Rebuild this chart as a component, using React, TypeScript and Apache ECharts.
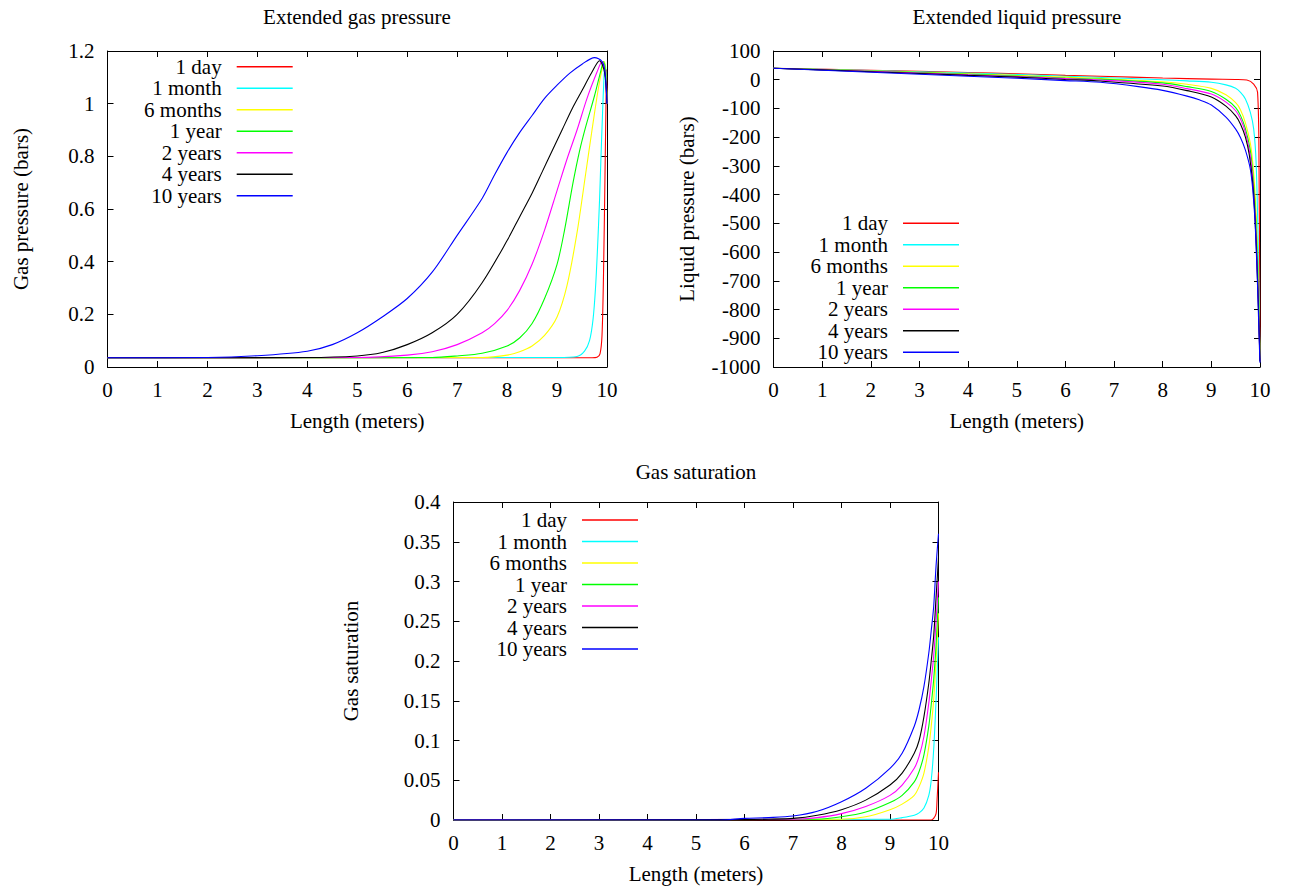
import React, { useEffect, useRef } from "react";
import * as echarts from "echarts";

const FONT = "Liberation Serif";

const SERIES_NAMES = ["1 day", "1 month", "6 months", "1 year", "2 years", "4 years", "10 years"];
const SERIES_COLORS = ["#ff0000", "#00ffff", "#ffff00", "#00ff00", "#ff00ff", "#000000", "#0000ff"];

const X_TICKS = { min: 0, max: 10, interval: 1 };
const GP_TICKS = { min: 0, max: 1.2, interval: 0.2 };
const LP_TICKS = { min: -1000, max: 100, interval: 100 };
const GS_TICKS = { min: 0, max: 0.4, interval: 0.05 };

// Extended gas pressure (bars)
const GP_1DAY = [[0, 0.035], [9.7, 0.035], [9.8, 0.037], [9.86, 0.05], [9.9, 0.12], [9.93, 0.35], [9.96, 0.73], [9.98, 1.0], [9.99, 1.13], [10, 1.0]];
const GP_1MONTH = [[0, 0.035], [9, 0.036], [9.4, 0.04], [9.55, 0.06], [9.65, 0.1], [9.72, 0.18], [9.77, 0.3], [9.81, 0.45], [9.85, 0.63], [9.88, 0.8], [9.91, 0.96], [9.94, 1.1], [9.96, 1.15], [9.98, 1.12], [10, 1.0]];
const GP_6MONTHS = [[0, 0.035], [7.5, 0.036], [8, 0.045], [8.25, 0.058], [8.5, 0.08], [8.75, 0.12], [9, 0.19], [9.2, 0.31], [9.4, 0.51], [9.57, 0.73], [9.7, 0.9], [9.82, 1.05], [9.9, 1.13], [9.95, 1.16], [9.98, 1.1], [10, 1.0]];
const GP_1YEAR = [[0, 0.035], [6.5, 0.036], [7, 0.042], [7.5, 0.052], [8, 0.08], [8.25, 0.11], [8.5, 0.165], [8.75, 0.26], [9, 0.39], [9.15, 0.52], [9.32, 0.7], [9.45, 0.82], [9.57, 0.91], [9.75, 1.03], [9.87, 1.12], [9.93, 1.16], [9.97, 1.12], [10, 1.0]];
const GP_2YEARS = [[0, 0.035], [5, 0.036], [6, 0.045], [6.5, 0.058], [7, 0.085], [7.5, 0.13], [7.75, 0.165], [8, 0.215], [8.25, 0.29], [8.5, 0.39], [8.75, 0.52], [9, 0.67], [9.2, 0.79], [9.4, 0.9], [9.6, 1.02], [9.8, 1.12], [9.9, 1.16], [9.96, 1.12], [10, 1.0]];
const GP_4YEARS = [[0, 0.035], [4, 0.036], [5, 0.042], [5.5, 0.055], [6, 0.085], [6.5, 0.13], [7, 0.2], [7.5, 0.32], [8, 0.48], [8.25, 0.57], [8.5, 0.66], [8.7, 0.74], [8.9, 0.82], [9.1, 0.9], [9.3, 0.98], [9.5, 1.05], [9.7, 1.12], [9.85, 1.163], [9.95, 1.12], [10, 1.0]];
const GP_10YEARS = [[0, 0.035], [2, 0.036], [3, 0.043], [4, 0.06], [4.5, 0.085], [5, 0.13], [5.5, 0.19], [6, 0.26], [6.5, 0.36], [7, 0.5], [7.5, 0.64], [7.75, 0.73], [8, 0.815], [8.25, 0.89], [8.5, 0.955], [8.75, 1.02], [9, 1.07], [9.25, 1.115], [9.5, 1.15], [9.75, 1.175], [9.9, 1.16], [9.96, 1.12], [10, 1.0]];

// Extended liquid pressure (bars)
const LP_1DAY = [[0, 40], [2, 33], [4, 25], [5, 21], [6, 15], [6.72, 12], [8, 6], [9, 2], [9.5, 1], [9.73, -1], [9.87, -15], [9.95, -44], [9.98, -300], [10, -980]];
const LP_1MONTH = [[0, 40], [2, 32], [4, 23], [5, 18], [6, 12], [6.72, 8], [8, 0], [8.5, -4], [9, -9], [9.3, -18], [9.5, -30], [9.6, -44], [9.7, -67], [9.8, -113], [9.87, -171], [9.92, -287], [9.96, -550], [10, -980]];
const LP_6MONTHS = [[0, 40], [2, 31], [4, 21], [5, 15], [6, 9], [6.72, 4.6], [8, -7], [8.5, -16], [9, -30], [9.3, -52], [9.5, -80], [9.6, -105], [9.7, -150], [9.8, -220], [9.85, -287], [9.9, -400], [9.95, -600], [10, -980]];
const LP_1YEAR = [[0, 40], [2, 30], [4, 19], [5, 13], [6, 6], [6.72, 2], [8, -11], [8.5, -24], [9, -41], [9.3, -68], [9.5, -97], [9.6, -125], [9.7, -170], [9.8, -245], [9.85, -322], [9.9, -440], [9.95, -640], [10, -980]];
const LP_2YEARS = [[0, 40], [2, 29], [4, 17], [5, 11], [6, 4], [6.72, -1], [8, -16], [8.5, -31], [9, -50], [9.3, -78], [9.5, -108], [9.6, -137], [9.7, -183], [9.8, -265], [9.85, -345], [9.9, -470], [9.95, -680], [10, -980]];
const LP_4YEARS = [[0, 40], [2, 28], [4, 15], [5, 9], [6, 1], [6.72, -4.6], [8, -22], [8.5, -38], [9, -60], [9.3, -92], [9.5, -126], [9.6, -155], [9.7, -200], [9.78, -262], [9.85, -360], [9.9, -490], [9.95, -700], [10, -980]];
const LP_10YEARS = [[0, 40], [2, 26], [4, 12], [5, 5], [6, -3], [6.72, -9], [7.5, -24], [8, -37], [8.5, -57], [8.75, -70], [9, -88], [9.3, -130], [9.5, -172], [9.6, -202], [9.7, -245], [9.8, -310], [9.85, -380], [9.9, -500], [9.95, -720], [9.99, -941], [10, -985]];

// Gas saturation
const GS_1DAY = [[0, 0], [9.85, 0], [9.9, 0.002], [9.95, 0.008], [9.97, 0.025], [10, 0.06]];
const GS_1MONTH = [[0, 0], [9, 0.001], [9.25, 0.003], [9.5, 0.006], [9.6, 0.009], [9.7, 0.015], [9.8, 0.031], [9.85, 0.05], [9.9, 0.088], [9.95, 0.151], [10, 0.23]];
const GS_6MONTHS = [[0, 0], [8, 0.001], [8.5, 0.004], [9, 0.013], [9.25, 0.02], [9.5, 0.031], [9.6, 0.042], [9.7, 0.059], [9.8, 0.092], [9.85, 0.118], [9.9, 0.151], [9.95, 0.2], [10, 0.26]];
const GS_1YEAR = [[0, 0], [7.5, 0.001], [8, 0.004], [8.5, 0.01], [9, 0.022], [9.25, 0.031], [9.5, 0.048], [9.6, 0.061], [9.7, 0.082], [9.8, 0.118], [9.85, 0.145], [9.9, 0.176], [9.95, 0.22], [10, 0.28]];
const GS_2YEARS = [[0, 0], [7, 0.001], [7.5, 0.003], [8, 0.008], [8.5, 0.017], [9, 0.031], [9.25, 0.044], [9.5, 0.065], [9.6, 0.08], [9.7, 0.105], [9.8, 0.147], [9.85, 0.175], [9.9, 0.206], [9.95, 0.25], [10, 0.3]];
const GS_4YEARS = [[0, 0], [6, 0.0005], [6.5, 0.001], [7, 0.002], [7.5, 0.006], [8, 0.013], [8.5, 0.025], [9, 0.044], [9.25, 0.059], [9.5, 0.084], [9.6, 0.1], [9.7, 0.13], [9.8, 0.172], [9.85, 0.2], [9.9, 0.231], [9.95, 0.28], [10, 0.33]];
const GS_10YEARS = [[0, 0], [5.5, 0], [6, 0.002], [6.5, 0.003], [7, 0.005], [7.5, 0.011], [8, 0.023], [8.5, 0.04], [9, 0.065], [9.25, 0.084], [9.5, 0.118], [9.6, 0.139], [9.7, 0.168], [9.8, 0.21], [9.85, 0.238], [9.9, 0.268], [9.95, 0.32], [10, 0.36]];

const GP_DATA = [GP_1DAY, GP_1MONTH, GP_6MONTHS, GP_1YEAR, GP_2YEARS, GP_4YEARS, GP_10YEARS];
const LP_DATA = [LP_1DAY, LP_1MONTH, LP_6MONTHS, LP_1YEAR, LP_2YEARS, LP_4YEARS, LP_10YEARS];
const GS_DATA = [GS_1DAY, GS_1MONTH, GS_6MONTHS, GS_1YEAR, GS_2YEARS, GS_4YEARS, GS_10YEARS];

const TITLES = ["Extended gas pressure", "Extended liquid pressure", "Gas saturation"];
const Y_NAMES = ["Gas pressure (bars)", "Liquid pressure (bars)", "Gas saturation"];
const X_NAME = "Length (meters)";

const txt = { fontFamily: FONT, fontSize: 21, color: "#000" };

const fmt = (v: number) => String(parseFloat(Number(v).toFixed(6)));

function makeX(grid: number, main: boolean) {
  return {
    type: "value",
    gridIndex: grid,
    ...X_TICKS,
    position: main ? "bottom" : "top",
    axisLine: { show: true, onZero: false, lineStyle: { color: "#000", width: 1 } },
    axisTick: { show: true, inside: true, length: 6, lineStyle: { color: "#000", width: 1 } },
    axisLabel: { show: main, margin: 12, formatter: fmt, ...txt },
    splitLine: { show: false },
    name: main ? X_NAME : "",
    nameLocation: "middle",
    nameGap: 43,
    nameTextStyle: txt,
  };
}

function makeY(grid: number, main: boolean, ticks: any, name: string, gap: number) {
  return {
    type: "value",
    gridIndex: grid,
    ...ticks,
    position: main ? "left" : "right",
    axisLine: { show: true, onZero: false, lineStyle: { color: "#000", width: 1 } },
    axisTick: { show: true, inside: true, length: 6, lineStyle: { color: "#000", width: 1 } },
    axisLabel: { show: main, margin: 13, formatter: fmt, ...txt },
    splitLine: { show: false },
    name: main ? name : "",
    nameLocation: "middle",
    nameGap: gap,
    nameTextStyle: txt,
  };
}

function makeSeries(data: number[][][], axis: number) {
  return data.map((d, i) => ({
    type: "line",
    name: SERIES_NAMES[i],
    xAxisIndex: axis,
    yAxisIndex: axis,
    data: d,
    symbol: "none",
    showSymbol: false,
    smooth: 0.3,
    lineStyle: { color: SERIES_COLORS[i], width: 1.1 },
    itemStyle: { color: SERIES_COLORS[i] },
  }));
}

function makeLegend(right: number, top: number) {
  return {
    orient: "vertical",
    right,
    top,
    align: "right",
    padding: 0,
    itemGap: 0.5,
    itemWidth: 56,
    itemHeight: 1.6,
    icon: "rect",
    data: SERIES_NAMES,
    selectedMode: false,
    textStyle: { ...txt, lineHeight: 21, padding: [0, 10, 0, 0] },
  };
}

export default function App() {
  const ref = useRef<HTMLDivElement>(null);
  useEffect(() => {
    if (!ref.current) return;
    const chart = echarts.init(ref.current, null, { renderer: "svg" });
    const titleStyle = { ...txt, fontWeight: "normal" };
    chart.setOption({
      animation: false,
      backgroundColor: "#fff",
      color: SERIES_COLORS,
      title: [
        { text: TITLES[0], left: 357, top: 17, textAlign: "center", textVerticalAlign: "middle", padding: 0, textStyle: titleStyle },
        { text: TITLES[1], left: 1017, top: 17, textAlign: "center", textVerticalAlign: "middle", padding: 0, textStyle: titleStyle },
        { text: TITLES[2], left: 696, top: 472, textAlign: "center", textVerticalAlign: "middle", padding: 0, textStyle: titleStyle },
      ],
      grid: [
        { left: 107.5, top: 51, width: 499.5, height: 316, outerBoundsMode: "none", containLabel: false },
        { left: 773.5, top: 51, width: 486.5, height: 316, outerBoundsMode: "none", containLabel: false },
        { left: 453.5, top: 502, width: 485, height: 318, outerBoundsMode: "none", containLabel: false },
      ],
      xAxis: [makeX(0, true), makeX(0, false), makeX(1, true), makeX(1, false), makeX(2, true), makeX(2, false)],
      yAxis: [
        makeY(0, true, GP_TICKS, Y_NAMES[0], 76),
        makeY(0, false, GP_TICKS, "", 0),
        makeY(1, true, LP_TICKS, Y_NAMES[1], 76),
        makeY(1, false, LP_TICKS, "", 0),
        makeY(2, true, GS_TICKS, Y_NAMES[2], 92),
        makeY(2, false, GS_TICKS, "", 0),
      ],
      legend: [makeLegend(997.3, 56.2), makeLegend(331, 212.8), makeLegend(652, 509.5)],
      series: [...makeSeries(GP_DATA, 0), ...makeSeries(LP_DATA, 2), ...makeSeries(GS_DATA, 4)],
    });
    return () => chart.dispose();
  }, []);
  return <div ref={ref} style={{ position: "absolute", left: 0, top: 0, width: 1290, height: 891 }} />;
}
